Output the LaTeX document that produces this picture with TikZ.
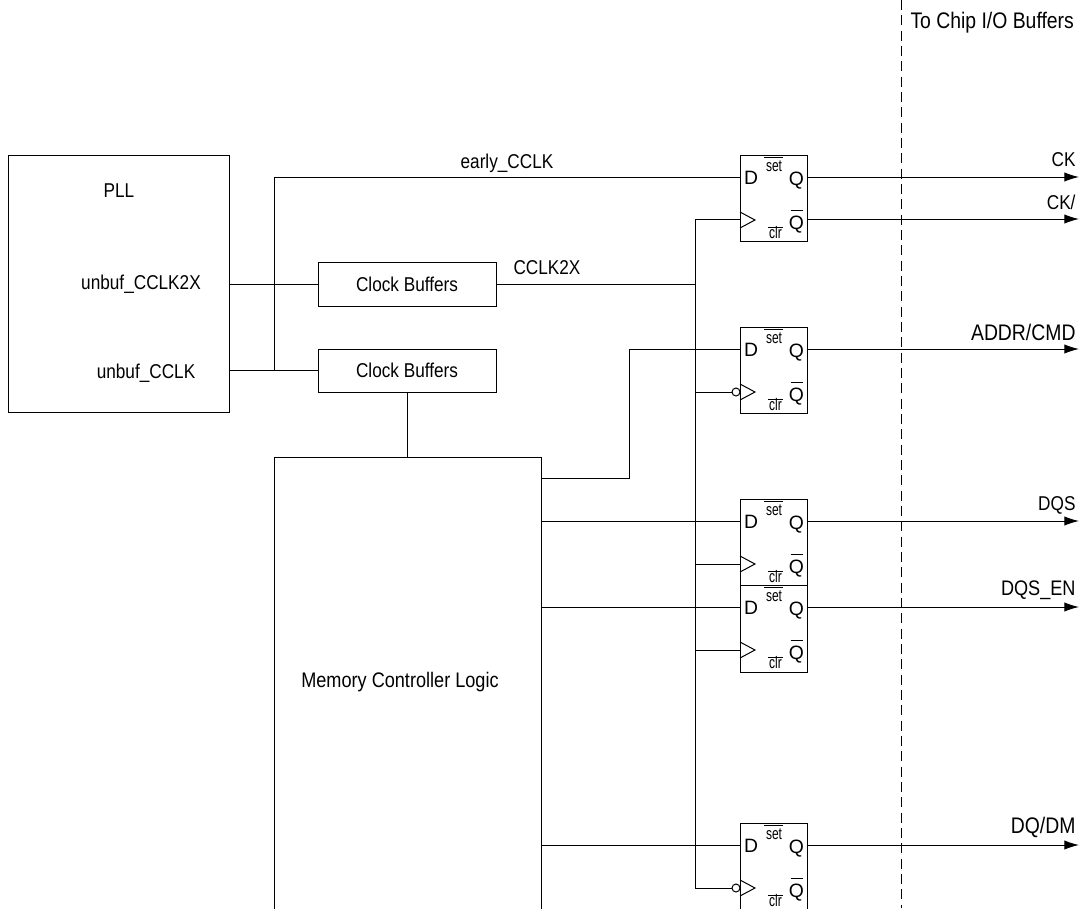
\documentclass[tikz,border=0pt]{standalone}
\usepackage{fontspec}
\setmainfont[FakeStretch=0.86]{Liberation Sans}
\newfontfamily\pinfont{Liberation Sans}
\newfontfamily\tinyfont[FakeStretch=0.72]{Liberation Sans}
\usetikzlibrary{arrows.meta}
\tikzset{
  x=0.75pt,y=-0.75pt,
  block/.style={draw,rectangle,inner sep=0pt,anchor=north west},
  flop/.style={draw,rectangle,inner sep=0pt,anchor=north west,minimum width=50.25pt},
  lbl/.style={inner sep=0pt,font=\fontsize{15}{17}\selectfont},
  lblm/.style={inner sep=0pt,font=\fontsize{15.8}{18}\selectfont},
  lblc/.style={inner sep=0pt,font=\fontsize{16.9}{19}\selectfont},
  pin/.style={inner sep=0pt,font=\pinfont\fontsize{14.5}{16}\selectfont},
  tinylbl/.style={inner sep=0pt,font=\tinyfont\fontsize{12.5}{14}\selectfont},
  wire/.style={draw=black,line width=0.75pt},
  outwire/.style={wire,-{Latex[length=11pt,width=7pt]}},
}
% #1 name, #2 top y, #3 height in px
\newcommand{\flipflop}[3]{%
  \node[flop,minimum height=#3*0.75pt] (#1) at (740,#2) {};
  \coordinate (#1d) at (740,#2+22);
  \coordinate (#1c) at (740,#2+65);
  \coordinate (#1q) at (807,#2+22);
  \coordinate (#1n) at (807,#2+65);
  \node[pin,text height=10.5pt,text depth=0pt] (#1D) at (751,#2+22) {D};
  \node[pin,text height=10.5pt,text depth=0pt] (#1Q) at (796.5,#2+23) {Q};
  \node[pin,text height=10.5pt,text depth=0pt] (#1N) at (796.5,#2+67) {Q};
  \draw (790.5,#2+55) -- (803,#2+55);
  \node[tinylbl] (#1S) at (774,#2+11) {set};
  \draw (764,#2+2) -- (783,#2+2);
  \node[tinylbl] (#1R) at (775.5,#2+78) {clr};
  \draw (768,#2+72) -- (783,#2+72);
  \draw (#1c)++(0,-8) -- ++(15,8) -- ++(-15,8);
}
\begin{document}
\begin{tikzpicture}[line width=0.75pt]
\path[use as bounding box] (0,0) rectangle (1079,908);
\clip (0,0) rectangle (1079,908);

\node[block,minimum width=165.75pt,minimum height=192.75pt] (pll) at (8,155) {};
\node[lbl] (plltxt) at (119,191) {PLL};
\node[lbl] (u2x) at (141,284) {unbuf\_CCLK2X};
\node[lbl] (u1x) at (146,373) {unbuf\_CCLK};
\coordinate (p2) at (229,284);
\coordinate (p1) at (229,370);

\node[block,minimum width=133.5pt,minimum height=33pt] (cb1) at (318,262) {};
\node[lbl] (cb1t) at (407,284) {Clock Buffers};
\node[block,minimum width=133.5pt,minimum height=32.25pt] (cb2) at (318,349) {};
\node[lbl] (cb2t) at (407,370) {Clock Buffers};

\node[block,minimum width=200.25pt,minimum height=360pt] (mc) at (274,457) {};
\node[lblm] (mct) at (400,682) {Memory Controller Logic};

\flipflop{a}{155}{85.5}
\flipflop{b}{327}{86}
\flipflop{c}{499}{86}
\flipflop{e}{585}{87}
\flipflop{f}{823}{95}

\coordinate (j1) at (274,284);
\coordinate (j2) at (274,370);
\coordinate (top) at (274,177);
\coordinate (k) at (695,284);
\coordinate (ktop) at (695,219);
\coordinate (kbot) at (695,888);
\coordinate (m1) at (629,478);
\coordinate (m0) at (541,478);
\coordinate (m1t) at (629,349);

% clock side
\draw[wire] (p2) -- (cb1.west |- p2);
\draw[wire] (p1) -- (cb2.west |- p1);
\draw[wire] (j2) -- (top) -- (ad);
\draw[wire] (cb1.east |- k) -- (k);
\draw[wire] (ktop) -- (kbot);
\draw[wire] (ktop) -- (ktop -| ac);
\draw[wire] (695,392) -- (732,392);
\draw[wire] (695,564) -- (cc);
\draw[wire] (695,650) -- (ec);
\draw[wire] (kbot) -- (732,888);
\draw[fill=white] (736,392) circle[radius=4];
\draw[fill=white] (736,888) circle[radius=4];

% controller
\draw[wire] (cb2.south) -- (cb2.south |- mc.north);
\draw[wire] (m0) -- (m1) -- (m1t) -- (bd);
\draw[wire] (541,521) -- (cd);
\draw[wire] (541,607) -- (ed);
\draw[wire] (541,845) -- (fd);

% outputs
\coordinate (oa) at (1079,177);
\coordinate (on) at (1079,219);
\coordinate (ob) at (1079,349);
\coordinate (oc) at (1079,521);
\coordinate (oe) at (1079,607);
\coordinate (of) at (1079,845);
\draw[outwire] (aq) -- (oa);
\draw[outwire] (an |- on) -- (on);
\draw[outwire] (bq) -- (ob);
\draw[outwire] (cq) -- (oc);
\draw[outwire] (eq) -- (oe);
\draw[outwire] (fq) -- (of);

\node[lbl,anchor=east] (tck) at (1076,160) {CK};
\node[lbl,anchor=east] (tckn) at (1076,202) {CK/};
\node[lblc,anchor=east] (tad) at (1076,332) {ADDR/CMD};
\node[lbl,anchor=east] (tdqs) at (1076,505) {DQS};
\node[lblm,anchor=east] (tdqe) at (1076,590) {DQS\_EN};
\node[lblc,anchor=east] (tdq) at (1076,827) {DQ/DM};
\node[lbl] (te) at (507,163) {early\_CCLK};
\node[lbl] (tc2) at (547,268) {CCLK2X};

\coordinate (d0) at (901,0);
\coordinate (d1) at (901,908);
\draw[wire,dash pattern=on 7.5pt off 4pt] (d0) -- (d1);
\node[lblc,anchor=west] (tchip) at (910,23) {To Chip I/O Buffers};
\end{tikzpicture}
\end{document}
